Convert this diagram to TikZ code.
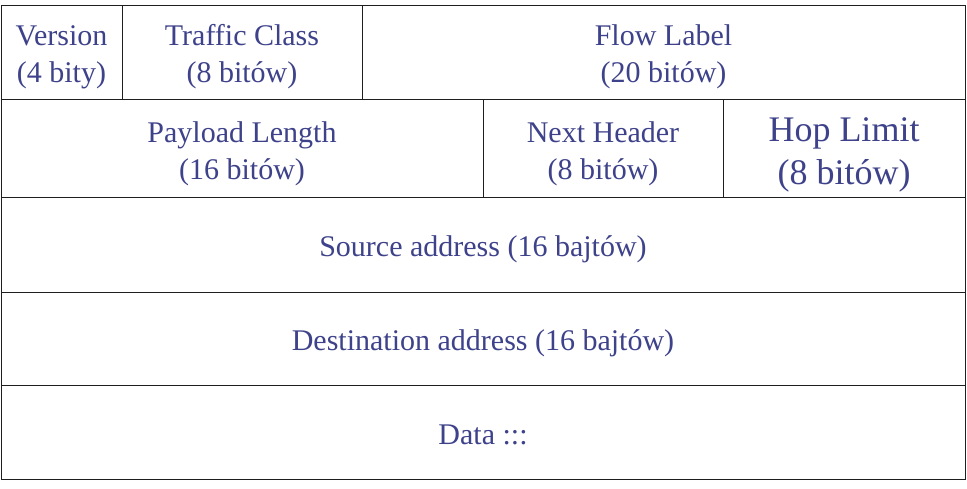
\documentclass[tikz,border=0pt]{standalone}
\usepackage{fontspec}
\setmainfont{Liberation Serif}
\definecolor{fieldtext}{RGB}{62,66,138}
\definecolor{rule}{RGB}{30,30,30}
\begin{document}
\begin{tikzpicture}[x=1pt,y=-1pt,
  field/.style={draw=rule, line width=1pt, rectangle, inner sep=0pt, outer sep=0pt,
    align=center, text=fieldtext, font=\fontsize{30}{37}\selectfont, yshift=0pt},
  bigfield/.style={field, font=\fontsize{36}{43}\selectfont}]
\useasboundingbox (0,0) rectangle (967,488);
\fill[white] (0,0) rectangle (967,488);
% row 1 (cell outlines; text sits slightly low inside each cell)
\node[field, minimum width=121, minimum height=94] (ver) at (61.5,52) {};
\node[field, minimum width=240, minimum height=94] (tc) at (242,52) {};
\node[field, minimum width=603, minimum height=94] (fl) at (663.5,52) {};
% row 2
\node[field, minimum width=482, minimum height=98] (pl) at (242,148) {};
\node[field, minimum width=240, minimum height=98] (nh) at (603,148) {};
\node[field, minimum width=242, minimum height=98] (hl) at (844,148) {};
% address and data rows
\node[field, minimum width=964, minimum height=95] (src) at (483,244.5) {};
\node[field, minimum width=964, minimum height=93] (dst) at (483,338.5) {};
\node[field, minimum width=964, minimum height=94] (data) at (483,432) {};
% field texts
\tikzset{fieldlabel/.style={draw=none, align=center, text=fieldtext, inner sep=0pt,
    font=\fontsize{30}{37}\selectfont}}
\node[fieldlabel, yshift=-5pt] (verT) at (ver.center) {Version\\(4 bity)};
\node[fieldlabel, yshift=-5pt] (tcT) at (tc.center) {Traffic Class\\(8 bitów)};
\node[fieldlabel, yshift=-5pt] (flT) at (fl.center) {Flow Label\\(20 bitów)};
\node[fieldlabel, yshift=-6pt] (plT) at (pl.center) {Payload Length\\(16 bitów)};
\node[fieldlabel, yshift=-6pt] (nhT) at (nh.center) {Next Header\\(8 bitów)};
\node[fieldlabel, yshift=-7pt, font=\fontsize{36}{43}\selectfont] (hlT) at (hl.center) {Hop Limit\\(8 bitów)};
\node[fieldlabel, yshift=-5pt] (srcT) at (src.center) {Source address (16 bajtów)};
\node[fieldlabel, yshift=-5pt] (dstT) at (dst.center) {Destination address (16 bajtów)};
\node[fieldlabel, yshift=-3pt] (dataT) at (data.center) {Data :::};
\end{tikzpicture}
\end{document}
